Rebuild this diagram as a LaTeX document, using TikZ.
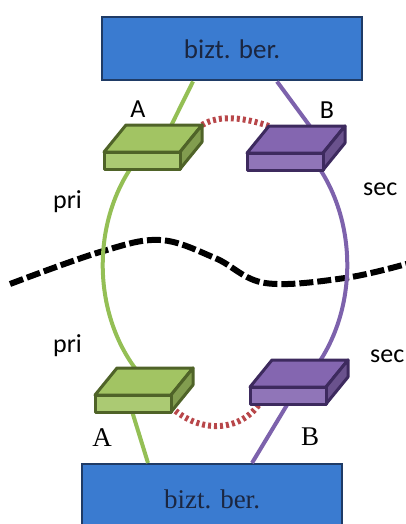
\documentclass[tikz,border=0pt]{standalone}
\usepackage{fontspec}
\setmainfont{Carlito}
\newfontfamily\timesfont{Liberation Serif}
\usetikzlibrary{calc}
\definecolor{boxblue}{HTML}{3A7BD0}
\definecolor{boxedge}{HTML}{1F3B66}
\definecolor{navy}{HTML}{1B2640}
\definecolor{prigreen}{HTML}{94BF55}
\definecolor{slabgreen}{HTML}{A2C463}
\definecolor{edgegreen}{HTML}{4F6328}
\definecolor{secpurple}{HTML}{7D62AC}
\definecolor{slabpurple}{HTML}{8466B0}
\definecolor{edgepurple}{HTML}{3D2A5E}
\definecolor{linkred}{HTML}{B8474A}

\tikzset{
  site/.style={draw=boxedge, fill=boxblue, line width=2pt, text=navy,
    minimum width=260pt, minimum height=63pt, inner sep=0pt},
  priline/.style={prigreen, line width=4pt},
  secline/.style={secpurple, line width=4pt},
  link/.style={linkred, line width=6pt, dash pattern=on 3pt off 3pt},
  cut/.style={black, line width=6pt, dash pattern=on 14pt off 4pt},
  lbl/.style={font=\fontsize{26}{30}\selectfont, inner sep=0pt},
  pics/slab/.style 2 args={code={
    % top face, side, front
    \filldraw[fill=#1, draw=#2, line width=3pt, line join=round]
      (0,0) -- (22,-27) -- (98,-27) -- (76,0) -- cycle;
    \filldraw[fill=#1!80!black, draw=#2, line width=3pt, line join=round]
      (76,0) -- (98,-27) -- (98,-10) -- (76,17) -- cycle;
    \filldraw[fill=#1!90!white, draw=#2, line width=3pt, line join=round]
      (0,0) rectangle (76,17);
  }}
}

\begin{document}
\begin{tikzpicture}[x=1pt, y=-1pt]
  \useasboundingbox (0,0) rectangle (405,524);

  % sites
  \node[site] (topsite) at (232,49) {\fontsize{27}{30}\selectfont bizt. ber.};
  \node[site, minimum height=70pt, anchor=north] (botsite) at (212,463) {\timesfont\fontsize{27}{30}\selectfont bizt. ber.};

  % slab corners
  \coordinate (ga) at (104,152);
  \coordinate (pa) at (247,153);
  \coordinate (gb) at (95,395);
  \coordinate (pb) at (250,387);
  \coordinate (ring) at (225,265);

  % cut line
  \draw[cut] plot[smooth, tension=0.6] coordinates {(10,284) (100,252) (160,240) (215,258) (265,283) (345,278) (410,263)};

  % primary and secondary paths
  \draw[priline] ([xshift=-39pt]topsite.south) -- ([shift={(56,-4)}]ga);
  \draw[secline] ([xshift=45pt]topsite.south) -- ([shift={(79,-5)}]pa);
  \draw[priline] ([shift={(145-225,150-265)}]ring) arc[start angle=229.2, end angle=128, x radius=122, y radius=152];
  \draw[secline] ([shift={(305-225,150-265)}]ring) arc[start angle=-49.2, end angle=52, x radius=122, y radius=152];
  \draw[priline] ([shift={(32,0)}]gb) -- ([xshift=-64pt]botsite.north);
  \draw[secline] ([shift={(46,3)}]pb) -- ([xshift=40pt]botsite.north);

  % links between the slabs
  \draw[link] ([shift={(98,-27)}]ga) .. controls (220,114) and (245,118) .. ([shift={(22,-27)}]pa);
  \draw[link] ([shift={(76,12)}]gb) .. controls (200,434) and (240,432) .. ([shift={(10,16)}]pb);

  % slabs
  \pic at (ga) {slab={slabgreen}{edgegreen}};
  \pic at (pa) {slab={slabpurple}{edgepurple}};
  \pic at (gb) {slab={slabgreen}{edgegreen}};
  \pic at (pb) {slab={slabpurple}{edgepurple}};

  % labels
  \node[lbl] (ta) at (138,109) {A};
  \node[lbl] (tb) at (327,110) {B};
  \node[lbl, anchor=base west] (tpri) at (53,208) {pri};
  \node[lbl, anchor=base west] (tsec) at (363,195) {sec};
  \node[lbl, anchor=base west] (bpri) at (53,352) {pri};
  \node[lbl, anchor=base west] (bsec) at (370,362) {sec};
  \node[lbl, font=\timesfont\fontsize{27}{30}\selectfont] (ba) at (102,438) {A};
  \node[lbl, font=\timesfont\fontsize{27}{30}\selectfont] (bb) at (310,437) {B};
\end{tikzpicture}
\end{document}
